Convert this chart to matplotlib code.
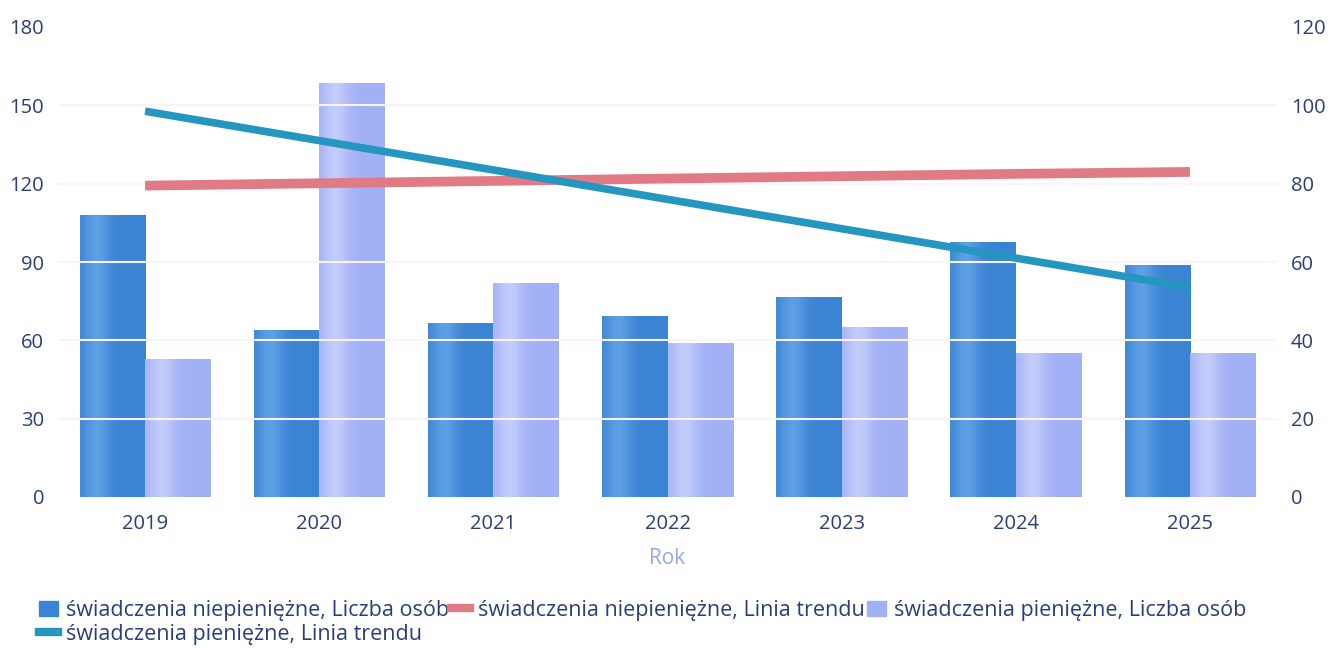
import matplotlib.pyplot as plt
import numpy as np
from matplotlib.patches import Patch
from matplotlib.lines import Line2D
from matplotlib.colors import to_rgb

plt.rcParams['font.family'] = ['Open Sans', 'DejaVu Sans']

years = ['2019', '2020', '2021', '2022', '2023', '2024', '2025']
niepieniezne = [108, 64, 66.5, 69.5, 76.5, 97.5, 89]
pieniezne = [53, 158.5, 82, 59, 65, 55, 55]
trend_niepieniezne = [79.5, 80.1, 80.7, 81.3, 81.9, 82.5, 83]
trend_pieniezne = [98.5, 91, 83.5, 76, 68.5, 61, 53.5]

navy = '#2b3d7a'
dark_bar = '#3b83d3'
dark_hi = '#5e9fe6'
light_bar = '#a2b0f5'
light_hi = '#c3ccfb'
red = '#e07b86'
teal = '#2496bf'


def gradient_bars(ax, bars, base, hi):
    # soft vertical highlight inside every bar
    t = np.linspace(0, 1, 64)
    k = np.exp(-((t - 0.25) / 0.2) ** 2)
    c0 = np.array(to_rgb(base))
    c1 = np.array(to_rgb(hi))
    img = (c0[None, :] * (1 - k[:, None]) + c1[None, :] * k[:, None])[None, :, :]
    for b in bars:
        x, y = b.get_x(), b.get_y()
        im = ax.imshow(img, extent=[x, x + b.get_width(), y, y + b.get_height()],
                       aspect='auto', zorder=2, interpolation='bilinear')
        im.set_clip_path(b)
        b.set_alpha(0)


fig = plt.figure(figsize=(13.29, 6.48), dpi=100)
ax = fig.add_axes([58 / 1329, 151 / 648, 1219 / 1329, 470 / 648])
x = np.arange(len(years))
w = 0.375
b1 = ax.bar(x - w / 2, niepieniezne, w, color=dark_bar, zorder=2)
b2 = ax.bar(x + w / 2, pieniezne, w, color=light_bar, zorder=2)
gradient_bars(ax, b1, dark_bar, dark_hi)
gradient_bars(ax, b2, light_bar, light_hi)
for v in [30, 60, 90, 120, 150]:
    ax.axhline(v, color='#fbf2fb', lw=1.5, zorder=3)

ax.set_xlim(-0.5, 6.5)
ax.set_ylim(0, 180)
ax.set_yticks(range(0, 181, 30))
ax.set_xticks(x)
ax.set_xticklabels(years)
ax.tick_params(length=0, labelsize=14.5, colors=navy, pad=12)
ax.tick_params(axis='y', pad=10)
for s in ax.spines.values():
    s.set_visible(False)
ax.set_xlabel('Rok', fontsize=15, color='#9ba6ea', labelpad=10)

ax2 = ax.twinx()
ax2.plot(x, trend_niepieniezne, color=red, lw=7, solid_capstyle='butt', zorder=4)
ax2.plot(x, trend_pieniezne, color=teal, lw=5.5, solid_capstyle='butt', zorder=5)
ax2.set_ylim(0, 120)
ax2.set_yticks(range(0, 121, 20))
ax2.tick_params(length=0, labelsize=14.5, colors=navy, pad=10)
for s in ax2.spines.values():
    s.set_visible(False)

handles = [Patch(color=dark_bar), Line2D([], [], color=teal, lw=6),
           Line2D([], [], color=red, lw=6), Patch(color=light_bar)]
labels = ['świadczenia niepieniężne, Liczba osób', 'świadczenia pieniężne, Linia trendu',
          'świadczenia niepieniężne, Linia trendu', 'świadczenia pieniężne, Liczba osób']
leg = fig.legend(handles, labels, loc='lower left', bbox_to_anchor=(30 / 1329, -0.008),
                 ncol=3, frameon=False, fontsize=15.5, handlelength=0.9, handletextpad=0.35,
                 columnspacing=0.1, labelspacing=0.12, borderaxespad=0.0)
for t in leg.get_texts():
    t.set_color(navy)

fig.savefig('out.png', dpi=100)
